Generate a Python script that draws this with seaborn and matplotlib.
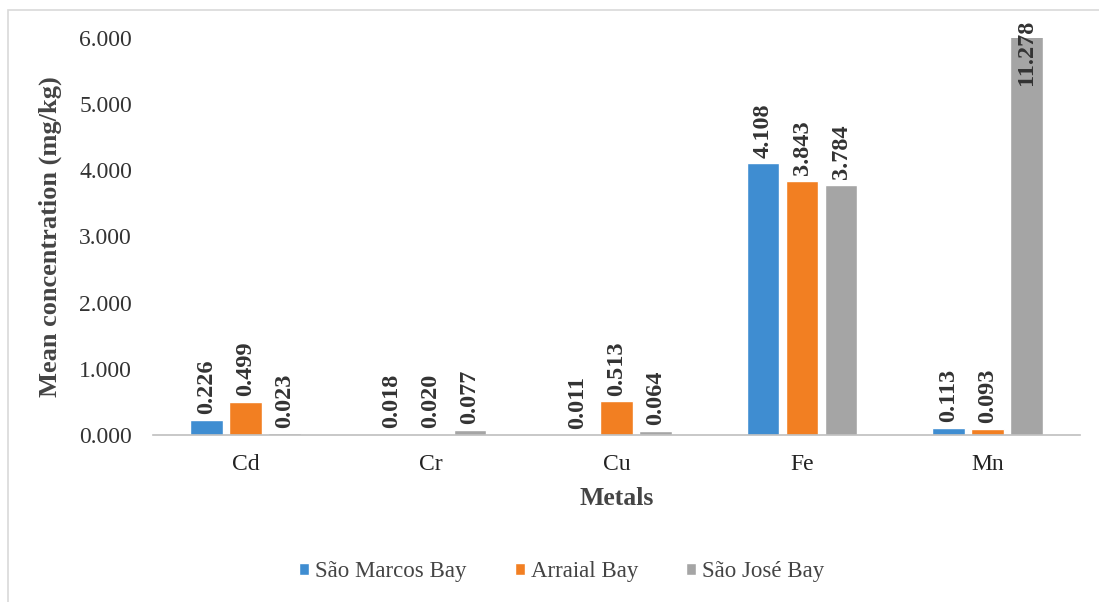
import numpy as np
import pandas as pd
import matplotlib.pyplot as plt
from matplotlib.patches import Rectangle
import seaborn as sns

metals = ["Cd", "Cr", "Cu", "Fe", "Mn"]
sao_marcos = [0.226, 0.018, 0.011, 4.108, 0.113]
arraial = [0.499, 0.020, 0.513, 3.843, 0.093]
sao_jose = [0.023, 0.077, 0.064, 3.784, 11.278]
bays = ["São Marcos Bay", "Arraial Bay", "São José Bay"]
cores = ["#3F8DD1", "#F27F22", "#A5A5A5"]
y_ticks = [0, 1, 2, 3, 4, 5, 6]

df = pd.DataFrame({
    "Metals": metals * 3,
    "Bay": [b for b in bays for _ in metals],
    "Valor": sao_marcos + arraial + sao_jose,
})

sns.set_theme(style="white")
serif = ["Liberation Serif", "DejaVu Serif"]
plt.rcParams["font.family"] = serif

fig = plt.figure(figsize=(10.99, 6.02), dpi=100)
ax = fig.add_axes([0.139, 0.2774, 0.844, 0.6595])

sns.barplot(data=df, x="Metals", y="Valor", hue="Bay", order=metals,
            hue_order=bays, palette=cores, width=0.63, gap=0.17,
            saturation=1, ax=ax, legend=True)

ymax = 6
ax.set_ylim(0, ymax)
ax.set_yticks(y_ticks)
ax.set_yticklabels([f"{v:.3f}" for v in y_ticks], fontsize=17, color="#333333")
ax.tick_params(axis="both", length=0)
ax.tick_params(axis="y", pad=15)
ax.tick_params(axis="x", pad=14, labelsize=17, labelcolor="#222222")
for s in ["top", "right", "left"]:
    ax.spines[s].set_visible(False)
ax.spines["bottom"].set_color("#BFBFBF")
ax.spines["bottom"].set_linewidth(1.2)

ax.set_xlabel("Metals", fontsize=18.5, fontweight="bold", color="#444444", labelpad=8)
ax.set_ylabel("Mean concentration (mg/kg)", fontsize=19, fontweight="bold",
              color="#444444", labelpad=12)

# etiquetas de los valores (rotadas)
for cont in ax.containers:
    for barra in cont:
        h = barra.get_height()
        xc = barra.get_x() + barra.get_width() / 2
        if h > ymax:
            ax.annotate(f"{h:.3f}", (xc, ymax), xytext=(0, 13), textcoords="offset points",
                        rotation=90, ha="center", va="top", fontsize=17.5,
                        fontweight="bold", color="#333333", annotation_clip=False)
        else:
            ax.annotate(f"{h:.3f}", (xc, h), xytext=(0, 4), textcoords="offset points",
                        rotation=90, ha="center", va="bottom", fontsize=17.5,
                        fontweight="bold", color="#333333")

handles, labels = ax.get_legend_handles_labels()
ax.get_legend().remove()
leg = fig.legend(handles, labels, loc="center", bbox_to_anchor=(0.511, 0.05), ncol=3,
                 frameon=False, fontsize=16.5, handlelength=0.45, handleheight=0.45,
                 handletextpad=0.25, columnspacing=2.1)
for t in leg.get_texts():
    t.set_fontfamily(serif)
    t.set_color("#444444")

# borde del area del grafico
fig.patches.append(Rectangle((0.0073, -0.02), 1.02, 1.003, transform=fig.transFigure,
                             fill=False, edgecolor="#D9D9D9", linewidth=1.2))

fig.savefig("out.png", dpi=100)
